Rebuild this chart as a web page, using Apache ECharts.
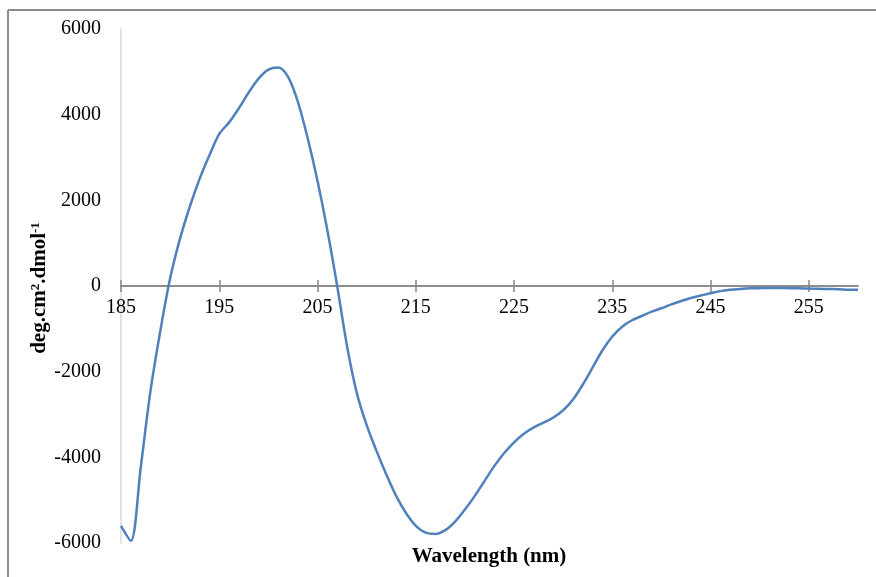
<!DOCTYPE html>
<html>
<head>
<meta charset="utf-8">
<title>CD spectrum</title>
<script src="https://cdn.jsdelivr.net/npm/echarts@6/dist/echarts.min.js"></script>
<style>
  html, body { margin: 0; padding: 0; background: #ffffff; }
  #chart { width: 876px; height: 577px; }
</style>
</head>
<body>
<div id="chart"></div>
<script>
// Wavelength (nm) and mean residue ellipticity
const wavelengths = [
  185, 186, 187, 188, 189, 190, 191, 192, 193, 194,
  195, 196, 197, 198, 199, 200, 201, 202, 203, 204,
  205, 206, 207, 208, 209, 210, 211, 212, 213, 214,
  215, 216, 217, 218, 219, 220, 221, 222, 223, 224,
  225, 226, 227, 228, 229, 230, 231, 232, 233, 234,
  235, 236, 237, 238, 239, 240, 241, 242, 243, 244,
  245, 246, 247, 248, 249, 250, 251, 252, 253, 254,
  255, 256, 257, 258, 259, 260
];
const ellipticity = [
  -5600, -5950, -4250, -2450, -1050, 180, 1100, 1850, 2500, 3050,
  3550, 3820, 4150, 4520, 4840, 5050, 5100, 4880, 4300, 3450,
  2450, 1300, 0, -1400, -2500, -3250, -3850, -4400, -4900, -5300,
  -5600, -5760, -5790, -5700, -5500, -5220, -4900, -4550, -4200, -3900,
  -3650, -3450, -3300, -3190, -3070, -2900, -2650, -2300, -1900, -1500,
  -1180, -950, -800, -700, -600, -520, -430, -350, -280, -220,
  -170, -120, -90, -70, -55, -50, -45, -45, -50, -55,
  -60, -65, -70, -75, -85, -90
];
const xTickValues = [185, 195, 205, 215, 225, 235, 245, 255];
const yTickValues = [-6000, -4000, -2000, 0, 2000, 4000, 6000];

const serif = '"Liberation Serif", "DejaVu Serif", serif';
const chart = echarts.init(document.getElementById('chart'), null, { renderer: 'canvas' });

const axisGray = '#868686';
const yMin = -6000, yMax = 6000;

// Two x axes share the zero line: one carries labels and downward ticks,
// the other (top-positioned) only draws upward ticks, giving cross ticks.
function xAxisBase(position) {
  return {
    type: 'value',
    position: position,
    min: 185,
    max: 260,
    offset: 0,
    splitLine: { show: false },
    axisLine: { onZero: false, lineStyle: { color: axisGray, width: 1.5 } },
    axisTick: { show: true, inside: false, length: 6, customValues: xTickValues,
                lineStyle: { color: axisGray, width: 1.5 } }
  };
}

chart.setOption({
  animation: false,
  backgroundColor: '#ffffff',
  grid: { left: 121, right: 18, top: 29, bottom: 34, containLabel: false, outerBoundsMode: 'none' },
  xAxis: [
    Object.assign(xAxisBase('bottom'), {
      axisLabel: { customValues: xTickValues, margin: 12, color: '#000',
                   fontFamily: serif, fontSize: 20 }
    }),
    Object.assign(xAxisBase('top'), {
      axisLabel: { show: false }
    })
  ],
  yAxis: {
    type: 'value',
    min: yMin,
    max: yMax,
    splitLine: { show: false },
    axisTick: { show: false },
    axisLine: { show: true, onZero: false, lineStyle: { color: '#d9d9d9', width: 1.5 } },
    axisLabel: { customValues: yTickValues, margin: 20, color: '#000',
                 fontFamily: serif, fontSize: 20,
                 formatter: v => String(v) }
  },
  graphic: [
    { type: 'line', shape: { x1: 8, y1: 10, x2: 876, y2: 10 },
      style: { stroke: '#8c8c8c', lineWidth: 2 } },
    { type: 'line', shape: { x1: 8, y1: 10, x2: 8, y2: 577 },
      style: { stroke: '#8c8c8c', lineWidth: 2 } },
    { type: 'text', x: 489, y: 557, style: {
        text: 'Wavelength (nm)', font: 'bold 21px ' + serif,
        fill: '#000', align: 'center', verticalAlign: 'middle' } },
    { type: 'text', x: 40, y: 288, rotation: Math.PI / 2, style: {
        text: 'deg.cm{sup|2}.dmol{sup|-1}', font: 'bold 21px ' + serif,
        fill: '#000', align: 'center', verticalAlign: 'middle',
        rich: {
          sup: { font: 'bold 13px ' + serif, fill: '#000', verticalAlign: 'top',
                 padding: [0, 0, 6, 0] }
        } } }
  ],
  series: [{
    type: 'line',
    data: wavelengths.map((w, i) => [w, ellipticity[i]]),
    smooth: 0.3,
    showSymbol: false,
    lineStyle: { color: '#4f81bd', width: 2.5 }
  }]
});

// Move both x axes onto the y = 0 line using the y scale's own mapping.
const zeroY = chart.convertToPixel({ yAxisIndex: 0 }, 0);
const topY = chart.convertToPixel({ yAxisIndex: 0 }, yMax);
const bottomY = chart.convertToPixel({ yAxisIndex: 0 }, yMin);
chart.setOption({
  xAxis: [
    { offset: zeroY - bottomY },
    { offset: topY - zeroY }
  ]
});
</script>
</body>
</html>
